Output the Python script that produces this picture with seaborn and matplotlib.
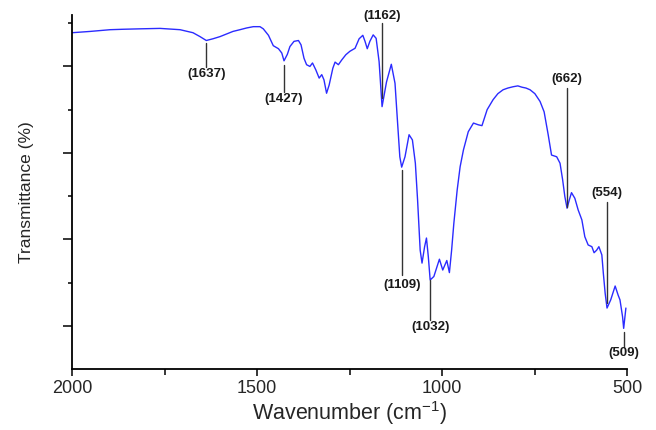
import matplotlib
matplotlib.use("Agg")
import matplotlib.pyplot as plt
from matplotlib.ticker import FixedLocator
import seaborn as sns
import pandas as pd

# FTIR spectrum: wavenumber (cm-1) and transmittance (arbitrary % scale)
wavenumber = [
    2000, 1951, 1897, 1862, 1816, 1762, 1708, 1673, 1654, 1637, 1619, 1600,
    1565, 1546, 1528, 1510, 1492, 1483, 1469, 1456, 1442, 1433, 1427, 1418,
    1411, 1400, 1388, 1381, 1373, 1366, 1357, 1350, 1341, 1332, 1325, 1319,
    1312, 1305, 1295, 1289, 1280, 1271, 1260, 1249, 1235, 1224, 1214, 1208,
    1202, 1195, 1186, 1178, 1170, 1162, 1150, 1137, 1127, 1120, 1114, 1109,
    1100, 1089, 1080, 1072, 1066, 1059, 1054, 1047, 1042, 1037, 1032, 1022,
    1007, 998, 987, 980, 974, 968, 959, 951, 942, 929, 915, 902,
    892, 878, 862, 849, 835, 822, 808, 795, 784, 773, 762, 749,
    735, 724, 713, 704, 690, 681, 674, 668, 662, 656, 650, 641,
    632, 622, 614, 605, 595, 589, 582, 576, 568, 564, 559, 554,
    544, 532, 524, 519, 512, 509, 503,
]
transmittance = [
    77.8, 78.1, 78.5, 78.6, 78.7, 78.8, 78.5, 77.8, 76.9, 76.0, 76.4, 76.9,
    78.1, 78.5, 78.9, 79.2, 79.2, 78.7, 77.2, 74.8, 74.1, 73.1, 71.3, 72.8,
    74.6, 75.8, 76.0, 75.0, 71.9, 70.4, 70.0, 70.8, 69.2, 67.3, 68.1, 66.9,
    63.8, 65.7, 69.6, 71.0, 70.4, 71.5, 72.7, 73.5, 74.2, 76.4, 77.2, 75.8,
    74.1, 75.8, 77.3, 76.5, 71.1, 60.7, 66.4, 70.5, 66.1, 56.9, 49.1, 46.7,
    49.1, 54.2, 53.0, 47.6, 39.1, 27.5, 24.5, 28.3, 30.3, 26.0, 20.6, 21.4,
    25.4, 22.9, 25.1, 22.3, 27.5, 33.7, 41.4, 46.8, 50.7, 54.9, 56.9, 56.5,
    56.3, 60.0, 62.3, 63.7, 64.6, 65.0, 65.3, 65.5, 65.2, 65.0, 64.6, 63.7,
    61.9, 59.5, 54.2, 49.5, 49.1, 47.6, 43.8, 39.9, 37.2, 39.1, 40.8, 39.5,
    36.8, 34.5, 30.6, 28.7, 28.3, 26.9, 27.5, 28.3, 26.4, 22.2, 17.5, 14.1,
    16.0, 19.2, 17.1, 16.0, 12.1, 9.4, 14.1,
]

# Band assignments: label, leader line top/bottom, text centre height
band_labels = [1637, 1427, 1162, 1109, 1032, 662, 554, 509]
leader_from = [75.5, 70.4, 80.1, 46.1, 20.6, 65.0, 38.7, 8.6]
leader_to = [69.9, 64.1, 62.7, 21.8, 11.3, 37.5, 15.3, 5.1]
label_y = [68.3, 62.5, 81.7, 19.4, 9.7, 67.1, 40.7, 3.7]

x_ticks = [2000, 1500, 1000, 500]
x_minor = [1750, 1250, 750]
y_major = [10, 30, 50, 70]
y_minor = [20, 40, 60, 80]

sns.set_theme(style="ticks")
plt.rcParams["font.family"] = ["Liberation Sans", "DejaVu Sans"]
plt.rcParams["mathtext.fontset"] = "custom"
plt.rcParams["mathtext.rm"] = "Liberation Sans"
plt.rcParams["mathtext.it"] = "Liberation Sans:italic"

fig = plt.figure(figsize=(6.56, 4.30), dpi=100)
ax = fig.add_axes([72 / 656, 1 - 369 / 430, 555 / 656, 354 / 430])

df = pd.DataFrame({"wn": wavenumber, "T": transmittance})
sns.lineplot(data=df, x="wn", y="T", ax=ax, color="#2b2bff", lw=1.0,
             sort=False, estimator=None)

for wn, y0, y1, ty in zip(band_labels, leader_from, leader_to, label_y):
    ax.plot([wn, wn], [y0, y1], color="#333333", lw=1.0, clip_on=False)
    ax.text(wn, ty, f"({wn})", ha="center", va="center", fontsize=9.5,
            fontweight="bold", color="#1a1a1a", clip_on=False)

ax.set_xlim(2000, 500)
ax.set_ylim(0, 81.9)
ax.xaxis.set_major_locator(FixedLocator(x_ticks))
ax.xaxis.set_minor_locator(FixedLocator(x_minor))
ax.yaxis.set_major_locator(FixedLocator(y_major))
ax.yaxis.set_minor_locator(FixedLocator(y_minor))
ax.set_yticklabels([])
ax.set_xticklabels([str(t) for t in x_ticks], fontsize=13)

ax.tick_params(axis="x", which="major", length=5, width=1.1, pad=3, color="black")
ax.tick_params(axis="x", which="minor", length=4, width=1.1, color="black")
ax.tick_params(axis="y", which="major", length=6.5, width=1.1, color="black")
ax.tick_params(axis="y", which="minor", length=3, width=1.1, color="black")

sns.despine(ax=ax)
for side in ("left", "bottom"):
    ax.spines[side].set_linewidth(1.3)
    ax.spines[side].set_color("black")

ax.set_xlabel("Wavenumber (cm$^{-1}$)", fontsize=15.5)
ax.set_ylabel("Transmittance (%)", fontsize=12.5)
ax.xaxis.set_label_coords(0.5, -0.086)
ax.yaxis.set_label_coords(-0.068, 0.5)

fig.savefig("out.png", dpi=100)
